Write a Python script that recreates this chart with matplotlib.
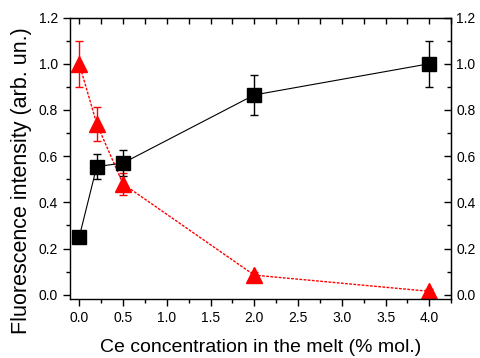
import matplotlib.pyplot as plt
from matplotlib.ticker import MultipleLocator

plt.rcParams['font.family'] = ['Liberation Sans', 'DejaVu Sans']

# data
ce = [0.0, 0.2, 0.5, 2.0, 4.0]
black_y = [0.25, 0.555, 0.57, 0.865, 1.0]
black_err = [0.0, 0.055, 0.055, 0.085, 0.1]
red_y = [1.0, 0.74, 0.48, 0.085, 0.015]
red_err = [0.1, 0.073, 0.048, 0.012, 0.01]

fig = plt.figure(figsize=(4.8, 3.58), dpi=100)
ax = fig.add_axes([0.145, 0.165, 0.795, 0.786])

ax.errorbar(ce, red_y, yerr=red_err, color='red', ls=(0, (2, 1)), lw=1,
            marker='^', ms=11, capsize=3, elinewidth=1, capthick=1)
ax.errorbar(ce, black_y, yerr=black_err, color='black', ls='-', lw=0.8,
            marker='s', ms=9.5, capsize=3, elinewidth=1, capthick=1)

ax.set_xlim(-0.11, 4.25)
ax.set_ylim(-0.018, 1.2)
ax.xaxis.set_major_locator(MultipleLocator(0.5))
ax.xaxis.set_minor_locator(MultipleLocator(0.25))
ax.yaxis.set_major_locator(MultipleLocator(0.2))
ax.yaxis.set_minor_locator(MultipleLocator(0.1))
ax.xaxis.set_major_formatter('{x:.1f}')
ax.yaxis.set_major_formatter('{x:.1f}')
ax.tick_params(which='major', direction='out', length=5, width=1, labelsize=10)
ax.tick_params(which='minor', direction='out', length=3, width=1)

sy = ax.secondary_yaxis('right')
sy.yaxis.set_major_locator(MultipleLocator(0.2))
sy.yaxis.set_minor_locator(MultipleLocator(0.1))
sy.yaxis.set_major_formatter('{x:.1f}')
sy.tick_params(which='major', direction='in', length=5, width=1, labelsize=10)
sy.tick_params(which='minor', direction='in', length=3, width=1)

sx = ax.secondary_xaxis('top')
sx.xaxis.set_major_locator(MultipleLocator(0.5))
sx.xaxis.set_minor_locator(MultipleLocator(0.25))
sx.tick_params(which='both', direction='in', length=4, width=1, labeltop=False)

for s in ax.spines.values():
    s.set_linewidth(1)

ax.set_xlabel('Ce concentration in the melt (% mol.)', fontsize=14, labelpad=10)
ax.set_ylabel('Fluorescence intensity (arb. un.)', fontsize=15.5)
ax.yaxis.set_label_coords(-0.098, 0.42)

fig.savefig('out.png')
